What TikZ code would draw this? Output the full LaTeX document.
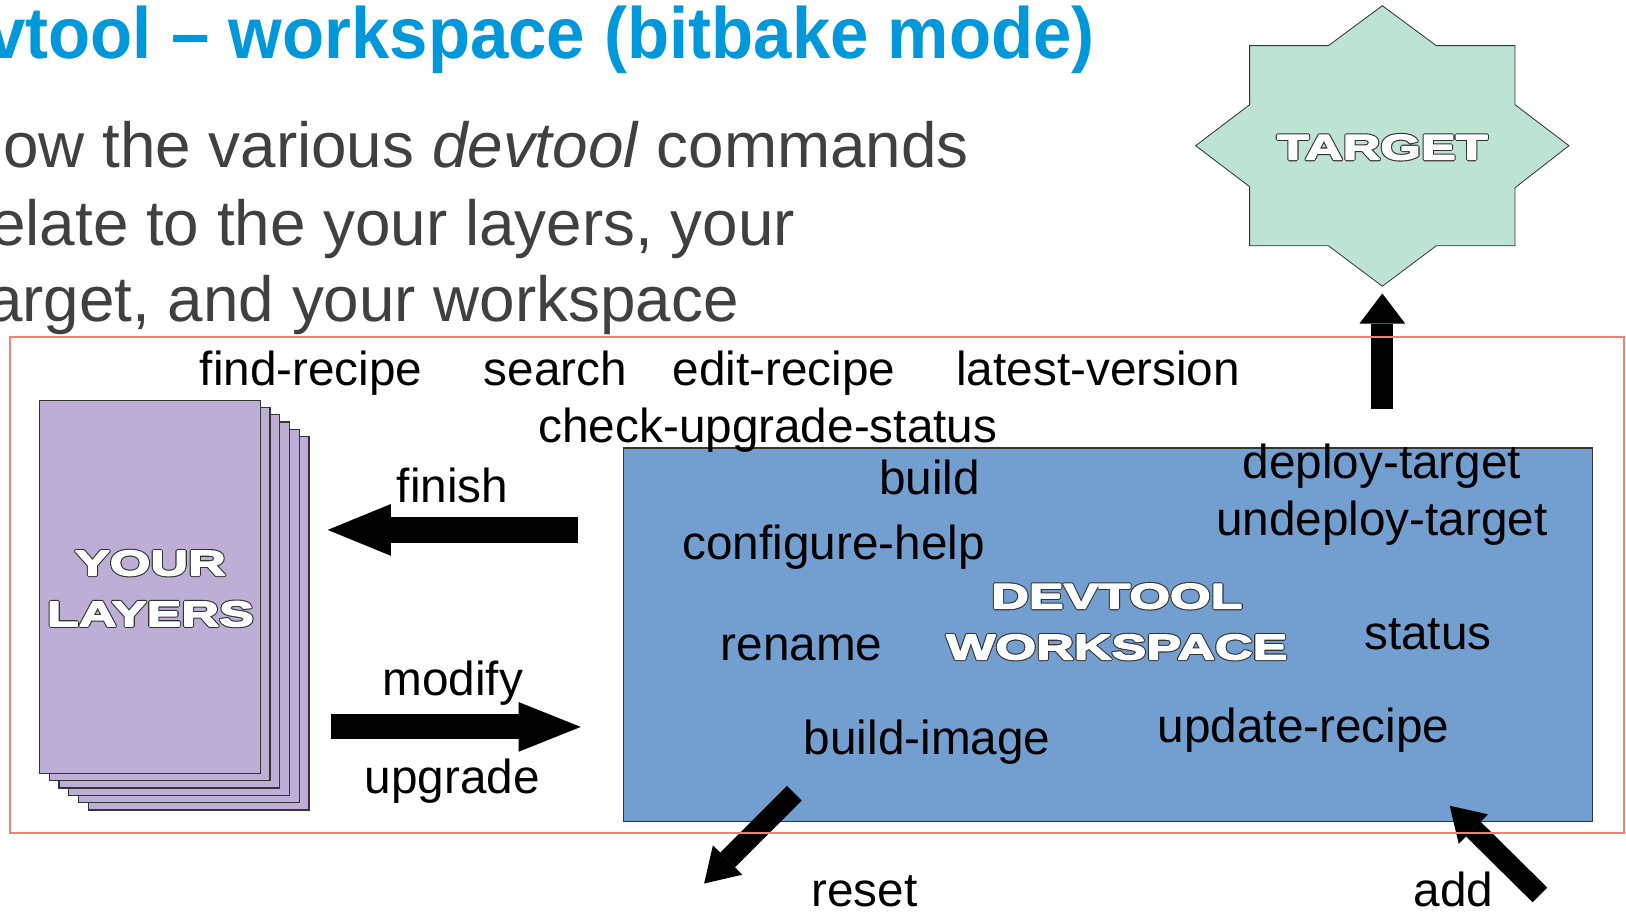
\documentclass[tikz,border=0pt]{standalone}
\usepackage{fontspec}
\setmainfont{Liberation Sans}
\newfontfamily\widefont{Liberation Sans}[FakeStretch=1.48]
\newfontfamily\titlefont{Liberation Sans}[FakeStretch=0.95]
\usetikzlibrary{arrows.meta,positioning}

\definecolor{titleblue}{RGB}{0,152,219}
\definecolor{bodygray}{RGB}{64,64,64}
\definecolor{wsblue}{RGB}{114,159,207}
\definecolor{layerlilac}{RGB}{189,174,214}
\definecolor{targetmint}{RGB}{189,227,211}
\definecolor{framered}{RGB}{240,128,118}
\definecolor{edgegray}{RGB}{52,52,52}

% heavy white letters with a dark rim
\newcommand{\hollow}[1]{%
  \rlap{\special{pdf:literal direct 0.2 0.2 0.2 rg 0.2 0.2 0.2 RG 2 Tr 3.6 w 1 j}#1}%
  \special{pdf:literal direct 1 1 1 rg 1 1 1 RG 2 Tr 1.5 w 1 j}#1%
  \special{pdf:literal direct 0 Tr}}

\begin{document}
\begin{tikzpicture}[
x=1pt,y=-1pt,
cmd/.style={
  font=\fontsize{46}{50}\selectfont,
  inner sep=0pt,
  anchor=base
},
body/.style={
  font=\fontsize{61.5}{70}\selectfont,
  text=bodygray,
  inner sep=0pt,
  anchor=base west
},
hollowtxt/.style={
  font=\widefont\bfseries\fontsize{34}{49}\selectfont,
  text=white,
  align=center,
  inner sep=0pt
},
layer/.style={
  draw=edgegray,
  line width=1.2pt,
  fill=layerlilac,
  minimum width=213pt,
  minimum height=360pt,
  inner sep=0pt
},
wsbox/.style={
  draw=edgegray,
  line width=1pt,
  fill=wsblue,
  minimum width=935pt,
  minimum height=360pt,
  inner sep=0pt
},
blockarrow/.style n args={3}{
  line width=#1pt,
  -{Triangle[width=#2pt,length=#3pt,line width=0pt]}
}
]
\useasboundingbox (0,0) rectangle (1568,880);
\clip (0,0) rectangle (1568,880);

% heading and intro
\node[font=\titlefont\bfseries\fontsize{70}{80}\selectfont,text=titleblue,
  inner sep=0pt,anchor=base east] (title) at (1056,56)
  {vtool – workspace (bitbake mode)};
\node[body] (line1) at (2.9,162) {ow the various \textit{devtool} commands};
\node[body] (line2) at (-9.6,237) {elate to the your layers, your};
\node[body] (line3) at (-12.5,310) {arget, and your workspace};

% the stack of layers
\foreach \k in {5,4,3,2,1,0}
  \node[layer] (layer\k) at ({144.5+9.4*\k},{566+7*\k}) {};
\node[hollowtxt] (layerstxt) at (145,567.5) {\hollow{YOUR}\\\hollow{LAYERS}};

% workspace
\node[wsbox] (ws) at (1068.5,612) {};
\node[hollowtxt] (wstxt) at (1077,599.5) {\hollow{DEVTOOL}\\\hollow{WORKSPACE}};

% target
\draw[draw=edgegray,fill=targetmint,line width=0.8pt]
  (1333,5.5) -- (1385,44) -- (1461,44) -- (1461,101) -- (1513,140.5)
  -- (1461,181) -- (1461,237) -- (1385,237) -- (1333,276) -- (1281,237)
  -- (1205,237) -- (1205,180) -- (1153,140.5) -- (1205,101) -- (1205,44)
  -- (1281,44) -- cycle;
\node[hollowtxt] (tgt) at (1333,142) {\hollow{TARGET}};

% commands
\node[cmd] (findrecipe) at (300,372) {find-recipe};
\node[cmd] (search) at (535.5,372) {search};
\node[cmd] (editrecipe) at (756,372) {edit-recipe};
\node[cmd] (latest) at (1059,372) {latest-version};
\node[cmd] (checkup) at (740.5,427) {check-upgrade-status};
\node[cmd] (finish) at (436.5,485) {finish};
\node[cmd] (build) at (896.5,477) {build};
\node[cmd] (deploy) at (1332.5,461) {deploy-target};
\node[cmd] (undeploy) at (1332.5,516) {undeploy-target};
\node[cmd] (confhelp) at (804,540) {configure-help};
\node[cmd] (rename) at (773,637) {rename};
\node[cmd] (status) at (1377,626) {status};
\node[cmd] (modify) at (436.5,671) {modify};
\node[cmd] (buildimg) at (894,728) {build-image};
\node[cmd] (updrecipe) at (1257,716) {update-recipe};
\node[cmd] (upgrade) at (436,765) {upgrade};
\node[cmd] (reset) at (833.5,874) {reset};
\node[cmd] (add) at (1401.5,874) {add};

% arrows
\coordinate (finishA) at (557,511);
\coordinate (finishB) at (316,511);
\coordinate (modifyA) at (319,701);
\coordinate (modifyB) at (560,701);
\coordinate (deployA) at (1333,394);
\coordinate (deployB) at (1333,283);
\coordinate (resetA) at (766,765);
\coordinate (resetB) at (679,852);
\coordinate (addA) at (1485,863);
\coordinate (addB) at (1398,777);
\draw[blockarrow={25}{50}{61}] (finishA) -- (finishB);
\draw[blockarrow={24}{48}{60}] (modifyA) -- (modifyB);
\draw[blockarrow={21}{44}{29}] (deployA) -- (deployB);
\draw[blockarrow={20}{40}{32}] (resetA) -- (resetB);
\draw[blockarrow={20}{40}{32}] (addA) -- (addB);

% frame
\draw[framered,line width=2pt] (10,325) rectangle (1566,803);
\end{tikzpicture}
\end{document}
